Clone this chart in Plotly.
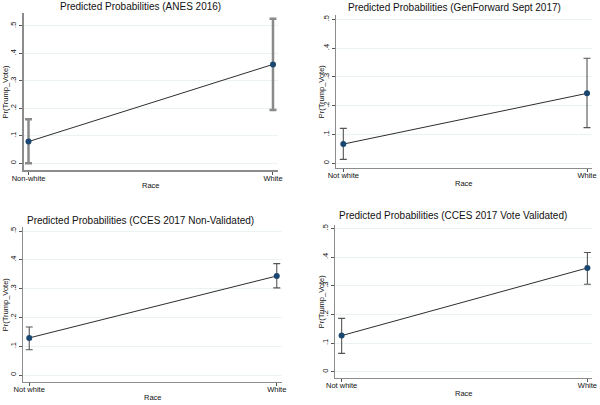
import plotly.graph_objects as go

W, H = 600, 405

titles = [
    "Predicted Probabilities (ANES 2016)",
    "Predicted Probabilities (GenForward Sept 2017)",
    "Predicted Probabilities (CCES 2017 Non-Validated)",
    "Predicted Probabilities (CCES 2017 Vote Validated)",
]
race_labels = [
    ["Non-white", "White"],
    ["Not white", "White"],
    ["Not white", "White"],
    ["Not white", "White"],
]
pred = [
    [0.079, 0.360],
    [0.067, 0.243],
    [0.129, 0.344],
    [0.126, 0.362],
]
ci_low = [
    [0.000, 0.194],
    [0.014, 0.124],
    [0.088, 0.3025],
    [0.064, 0.305],
]
ci_high = [
    [0.160, 0.526],
    [0.1215, 0.365],
    [0.167, 0.387],
    [0.186, 0.416],
]
y_tickvals = [0, 0.1, 0.2, 0.3, 0.4, 0.5]
y_ticktext = ["0", ".1", ".2", ".3", ".4", ".5"]

# layout geometry in pixels: (left, right, top, bottom), ranges
geo = [
    dict(l=23.5, r=278, t=13, b=170, xr=[-0.0205, 1.0205], yr=[-0.0244, 0.547],
         title=(140, 7), race=185.7, ylab=5),
    dict(l=336, r=592, t=15, b=168, xr=[-0.030, 1.0205], yr=[-0.016, 0.515],
         title=(454, 7.3), race=183.3, ylab=321.7),
    dict(l=23.3, r=281.7, t=226.7, b=381.7, xr=[-0.024, 1.02], yr=[-0.023, 0.515],
         title=(140, 220), race=397, ylab=5),
    dict(l=335, r=592.3, t=225, b=378.3, xr=[-0.027, 1.02], yr=[-0.023, 0.512],
         title=(453, 215.7), race=393, ylab=321.7),
]

FONT = "Liberation Sans, Arial, sans-serif"
fig = go.Figure()
annotations = []
layout = {}

for i in range(4):
    g = geo[i]
    xa = "x" if i == 0 else f"x{i+1}"
    ya = "y" if i == 0 else f"y{i+1}"
    thick = (i == 0)
    plus = [h - p for h, p in zip(ci_high[i], pred[i])]
    minus = [p - l for p, l in zip(pred[i], ci_low[i])]
    fig.add_trace(go.Scatter(
        x=race_labels[i], y=pred[i], xaxis=xa, yaxis=ya,
        mode="lines+markers",
        line=dict(color="#2e2e2e", width=1),
        marker=dict(color="#1a476f", size=6),
        error_y=dict(type="data", symmetric=False, array=plus, arrayminus=minus,
                     color="#8a8a8a" if thick else "#555555",
                     thickness=2.5 if thick else 1.1, width=3.5),
        showlegend=False, cliponaxis=False,
    ))
    xkey = "xaxis" if i == 0 else f"xaxis{i+1}"
    ykey = "yaxis" if i == 0 else f"yaxis{i+1}"
    layout[xkey] = dict(
        domain=[g["l"] / W, g["r"] / W], anchor=ya, type="category",
        range=g["xr"], autorange=False, automargin=False,
        showgrid=False, zeroline=False,
        showline=True, linecolor="#8c8c8c", linewidth=1.5 if thick else 1,
        ticks="outside", ticklen=3, tickcolor="#555555", tickwidth=1,
        ticklabelstandoff=-3,
        tickfont=dict(family=FONT, size=7.5, color="#111111"),
        fixedrange=True,
    )
    layout[ykey] = dict(
        domain=[1 - g["b"] / H, 1 - g["t"] / H], anchor=xa,
        range=g["yr"], autorange=False, automargin=False,
        tickvals=y_tickvals, ticktext=y_ticktext,
        tickangle=-90, showgrid=True, gridcolor="#eaf2f3", gridwidth=1,
        zeroline=False, showline=True, linecolor="#8c8c8c",
        linewidth=1.5 if thick else 1,
        ticks="outside", ticklen=3, tickcolor="#555555", tickwidth=1,
        tickfont=dict(family=FONT, size=7.5, color="#111111"),
        fixedrange=True,
    )
    annotations.append(dict(
        text=titles[i], x=g["title"][0] / W, y=1 - g["title"][1] / H,
        xref="paper", yref="paper", xanchor="center", yanchor="middle",
        showarrow=False, font=dict(family=FONT, size=10, color="#111111")))
    annotations.append(dict(
        text="Race", x=(g["l"] + g["r"]) / 2 / W, y=1 - g["race"] / H,
        xref="paper", yref="paper", xanchor="center", yanchor="middle",
        showarrow=False, font=dict(family=FONT, size=7.5, color="#111111")))
    annotations.append(dict(
        text="Pr(Trump_Vote)", x=g["ylab"] / W, y=1 - (g["t"] + g["b"]) / 2 / H,
        xref="paper", yref="paper", xanchor="center", yanchor="middle",
        textangle=-90, showarrow=False,
        font=dict(family=FONT, size=7.5, color="#111111")))

fig.update_layout(
    template="none",
    width=W, height=H, margin=dict(l=0, r=0, t=0, b=0, pad=0, autoexpand=False),
    paper_bgcolor="white", plot_bgcolor="white",
    annotations=annotations, **layout,
)
fig.write_html(
    "out.html",
    config={"displayModeBar": False, "responsive": False},
    post_script="document.body.style.margin='0';document.body.style.padding='0';"
                "document.documentElement.style.overflow='hidden';",
)
